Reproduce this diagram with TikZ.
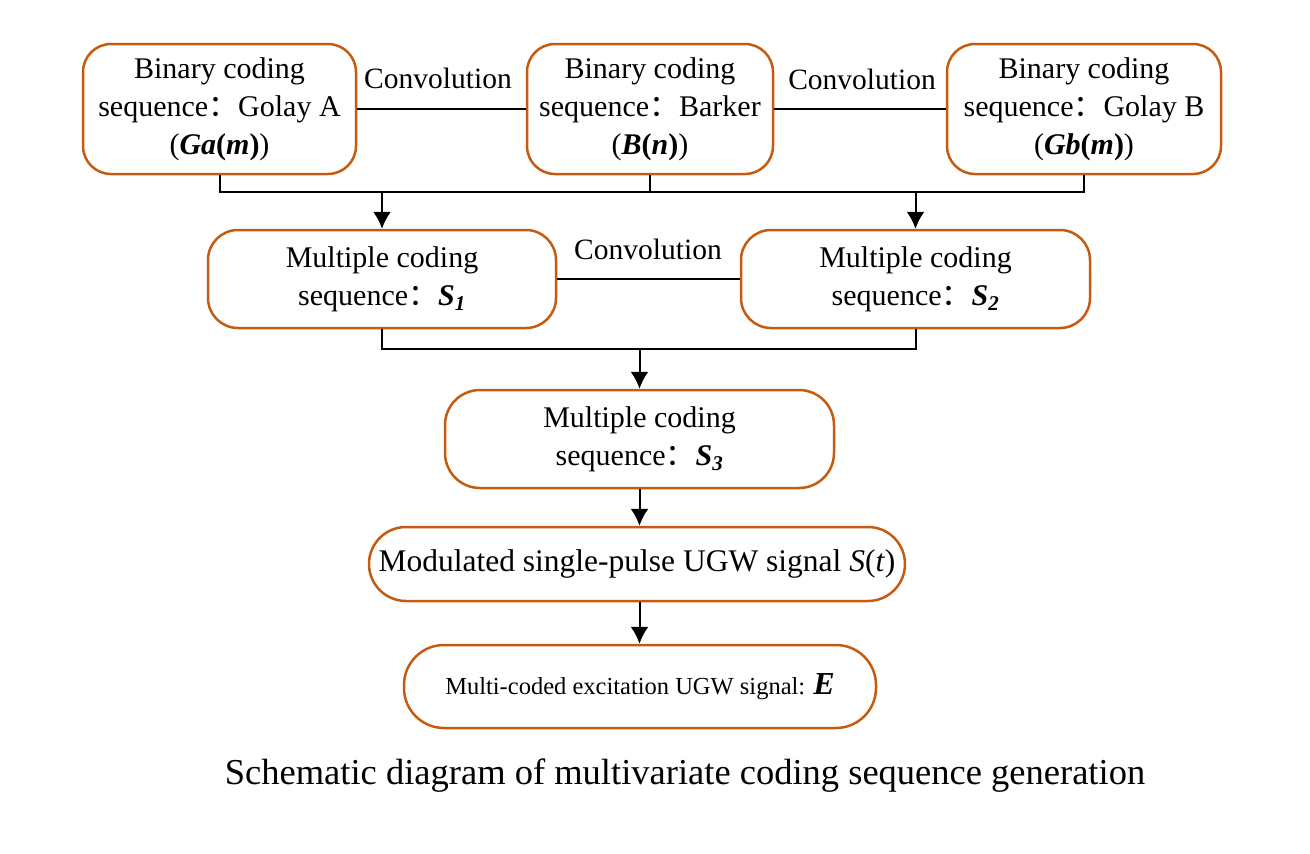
\documentclass[tikz,border=0pt]{standalone}
\usepackage{fontspec}
\setmainfont{Liberation Serif}
\newfontfamily\cjk{Noto Sans CJK SC}
\usetikzlibrary{arrows.meta}
\definecolor{boxorange}{RGB}{197,90,17}
\newcommand{\fcolon}{{\cjk ：}}
\tikzset{
  codebox/.style={draw=boxorange, line width=2.5pt, rounded corners=28pt, align=center, inner sep=0pt, font=\fontsize{30}{38}\selectfont},
  convlabel/.style={font=\fontsize{29.5}{32}\selectfont},
  link/.style={line width=2pt},
  flow/.style={line width=2pt, -{Latex[length=17pt,width=18pt]}}
}
\begin{document}
\begin{tikzpicture}[x=1pt,y=-1pt]
\useasboundingbox (0,0) rectangle (1310,854);
% binary coding sequences
\node[codebox, minimum width=273pt, minimum height=130pt] (ga) at (219.5,109) {Binary coding\\sequence\fcolon{}Golay A\\(\textbf{\textit{Ga}(\textit{m})})};
\node[codebox, minimum width=246pt, minimum height=130pt] (bk) at (650,109) {Binary coding\\sequence\fcolon{}Barker\\(\textbf{\textit{B}(\textit{n})})};
\node[codebox, minimum width=274pt, minimum height=130pt] (gb) at (1084,109) {Binary coding\\sequence\fcolon{}Golay B\\(\textbf{\textit{Gb}(\textit{m})})};
\draw[link] (ga) -- (bk);
\draw[link] (bk) -- (gb);
\node[convlabel] (c1) at (438,78) {Convolution};
\node[convlabel] (c2) at (862,79) {Convolution};
% multiple coding sequences
\node[codebox, rounded corners=30pt, minimum width=348pt, minimum height=98pt] (s1) at (382,279) {Multiple coding\\sequence\fcolon{}\textbf{\textit{S}\textsubscript{\textit{1}}}};
\node[codebox, rounded corners=30pt, minimum width=349pt, minimum height=98pt] (s2) at (915.5,279) {Multiple coding\\sequence\fcolon{}\textbf{\textit{S}\textsubscript{\textit{2}}}};
\draw[link] (s1) -- (s2);
\node[convlabel] (c3) at (648,249) {Convolution};
\coordinate (bus1) at (650,192);
\draw[link] (ga.south) -- (ga.south |- bus1) -- (gb.south |- bus1) -- (gb.south);
\draw[link] (bk.south) -- (bk.south |- bus1);
\draw[flow] (s1.north |- bus1) -- (s1.north);
\draw[flow] (s2.north |- bus1) -- (s2.north);
\node[codebox, rounded corners=35pt, minimum width=389pt, minimum height=98pt] (s3) at (639.5,439) {Multiple coding\\sequence\fcolon{}\textbf{\textit{S}\textsubscript{\textit{3}}}};
\coordinate (bus2) at (640,349);
\draw[link] (s1.south) -- (s1.south |- bus2) -- (s2.south |- bus2) -- (s2.south);
\draw[flow] (s3.north |- bus2) -- (s3.north);
% signals
\node[codebox, rounded corners=37pt, minimum width=536pt, minimum height=74pt, font=\fontsize{31.5}{34}\selectfont] (mod) at (637,564) {Modulated single-pulse UGW signal \textit{S}(\textit{t})};
\node[codebox, rounded corners=40pt, minimum width=472pt, minimum height=83pt, font=\fontsize{24.5}{28}\selectfont] (exc) at (640,686.5) {Multi-coded excitation UGW signal: {\fontsize{32}{34}\selectfont\textbf{\textit{E}}}};
\draw[flow] (s3) -- (s3 |- mod.north);
\draw[flow] (mod.south -| s3) -- (s3 |- exc.north);
\node[font=\fontsize{36.5}{40}\selectfont] (cap) at (685,776) {Schematic diagram of multivariate coding sequence generation};
\end{tikzpicture}
\end{document}
